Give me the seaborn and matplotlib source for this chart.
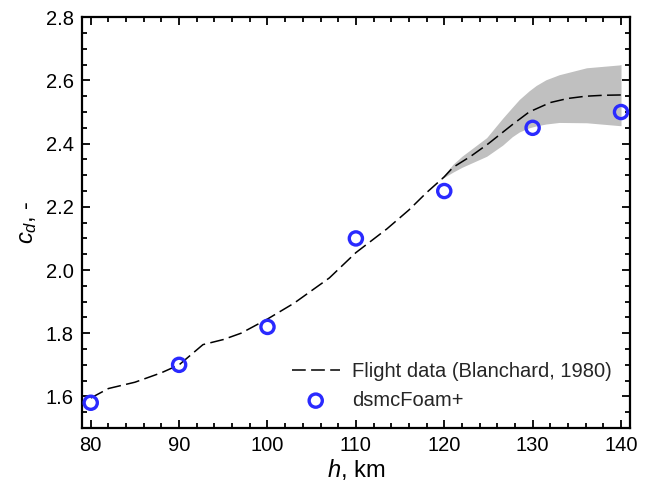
import numpy as np
import pandas as pd
import matplotlib
matplotlib.use("Agg")
import matplotlib.pyplot as plt
import seaborn as sns
from matplotlib.ticker import MultipleLocator

# Flight data (Blanchard, 1980)
flight_h = [80, 82, 85, 88, 90, 92.7, 95, 97, 100, 103, 107, 110,
            113.5, 116, 118, 120, 121, 123, 125, 127.7, 129.6, 132, 134, 136, 138, 140]
flight_cd = [1.595, 1.625, 1.645, 1.675, 1.70, 1.764, 1.78, 1.80, 1.845, 1.895, 1.975, 2.055,
             2.13, 2.19, 2.245, 2.295, 2.325, 2.36, 2.40, 2.46, 2.50, 2.53, 2.543, 2.55, 2.553, 2.554]

# Uncertainty band
band_h = [119.5, 121, 122, 124.8, 126.6, 127.7, 128.5, 129.6, 130.4, 131.5, 133, 136.1, 139.8, 140]
band_lo = [2.285, 2.31, 2.325, 2.36, 2.395, 2.422, 2.437, 2.45, 2.456, 2.462, 2.467, 2.466, 2.457, 2.457]
band_hi = [2.285, 2.335, 2.36, 2.419, 2.48, 2.515, 2.54, 2.567, 2.584, 2.602, 2.618, 2.64, 2.649, 2.65]

# dsmcFoam+
dsmc_h = [80, 90, 100, 110, 120, 130, 140]
dsmc_cd = [1.58, 1.70, 1.82, 2.10, 2.25, 2.45, 2.50]

sns.set_theme(style="ticks")
plt.rcParams['font.family'] = ['Liberation Sans', 'DejaVu Sans']
plt.rcParams['mathtext.fontset'] = 'custom'
plt.rcParams['mathtext.it'] = 'Liberation Sans:italic'
plt.rcParams['mathtext.rm'] = 'Liberation Sans'

fig = plt.figure(figsize=(6.5, 4.92), dpi=100)
ax = fig.add_axes([0.126, 0.130, 0.843, 0.835])

ax.fill_between(band_h, band_lo, band_hi, color='#c0c0c0', linewidth=0, zorder=1)

df_f = pd.DataFrame({'h': flight_h, 'cd': flight_cd})
sns.lineplot(data=df_f, x='h', y='cd', ax=ax, color='black', linewidth=1.1,
             dashes=False, label='Flight data (Blanchard, 1980)', zorder=2)
ax.lines[-1].set_dashes([9, 3.5])

df_d = pd.DataFrame({'h': dsmc_h, 'cd': dsmc_cd})
sns.scatterplot(data=df_d, x='h', y='cd', ax=ax, marker='o', s=90,
                facecolors='none', edgecolor='#2a2aff', linewidth=2.4,
                label='dsmcFoam+', zorder=3)

ax.set_xlim(79, 141)
ax.set_ylim(1.5, 2.8)
ax.xaxis.set_major_locator(MultipleLocator(10))
ax.xaxis.set_minor_locator(MultipleLocator(2))
ax.yaxis.set_major_locator(MultipleLocator(0.2))
ax.yaxis.set_minor_locator(MultipleLocator(0.05))
ax.yaxis.set_major_formatter(matplotlib.ticker.FormatStrFormatter('%.1f'))
ax.tick_params(which='both', direction='in', top=True, right=True, labelsize=14.5, width=1.3,
               color='black', labelcolor='black')
ax.tick_params(which='major', length=6, pad=6)
ax.tick_params(which='minor', length=3.5)
for sp in ax.spines.values():
    sp.set_linewidth(1.6)
    sp.set_color('black')

ax.set_xlabel('$h$, km', fontsize=17, color='black', labelpad=1)
ax.set_ylabel('$c_d$, -', fontsize=17, color='black', labelpad=5)

leg = ax.legend(loc='lower right', frameon=False, fontsize=14.5, handlelength=2.4,
                borderaxespad=0.5, labelspacing=0.5, handletextpad=0.6)

fig.savefig('out.png', dpi=100)
